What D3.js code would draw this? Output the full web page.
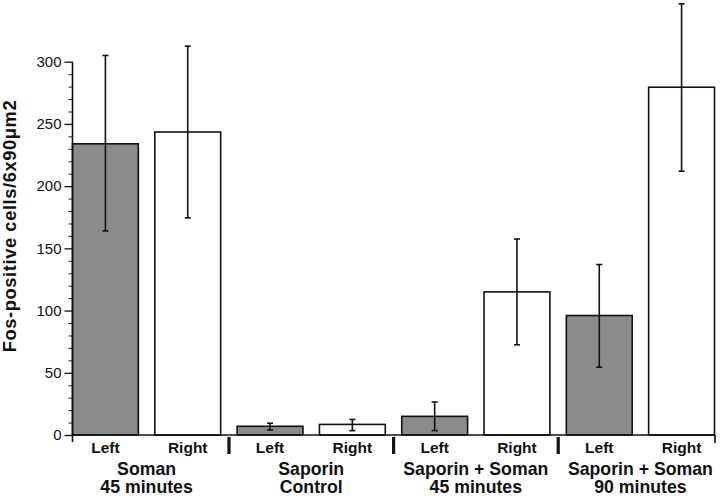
<!DOCTYPE html>
<html><head><meta charset="utf-8">
<script src="https://cdn.jsdelivr.net/npm/d3@7"></script>
<style>body{margin:0;background:#fff}svg{display:block}text{font-family:"Liberation Sans",Arial,sans-serif}</style>
</head><body>
<svg id="c" width="720" height="496"></svg>
<script>
const groups = ["Soman|45 minutes","Saporin|Control","Saporin + Soman|45 minutes","Saporin + Soman|90 minutes"];
const sides = ["Left","Right"];
const leftMean = [234, 7, 15, 96];
const leftHigh = [305, 9.5, 26.5, 137];
const leftLow  = [164, 4, 3.5, 54.5];
const rightMean = [243.5, 8.5, 115, 279.5];
const rightHigh = [312.5, 12.5, 157.5, 346.5];
const rightLow  = [174.5, 3.5, 72.5, 212];
const majorTicks = [0, 50, 100, 150, 200, 250, 300];
const yTitle = "Fos-positive cells/6x90\u03bcm2";

const bars = [];
groups.forEach((g, i) => {
  bars.push({id: i + "L", side: "Left", v: leftMean[i], hi: leftHigh[i], lo: leftLow[i]});
  bars.push({id: i + "R", side: "Right", v: rightMean[i], hi: rightHigh[i], lo: rightLow[i]});
});

const svg = d3.select("#c");
const x0 = 72.5, xEnd = 714.5, yBase = 435, yTop = 61.7;
const y = d3.scaleLinear().domain([0, 300]).range([yBase, yTop]);
const x = d3.scaleBand().domain(bars.map(d => d.id)).range([x0, xEnd]).paddingInner(0.2).paddingOuter(0);

// bars
svg.append("g").selectAll("rect").data(bars).join("rect")
  .attr("x", d => x(d.id)).attr("width", x.bandwidth())
  .attr("y", d => y(d.v)).attr("height", d => y(0) - y(d.v))
  .attr("fill", d => d.side === "Left" ? "#8b8b8b" : "#fff")
  .attr("stroke", "#111").attr("stroke-width", 1.6);

// error bars
const eb = svg.append("g").attr("stroke", "#111").attr("stroke-width", 1.6);
bars.forEach(d => {
  const cx = x(d.id) + x.bandwidth() / 2;
  eb.append("line").attr("x1", cx).attr("x2", cx).attr("y1", y(d.hi)).attr("y2", y(d.lo));
  [d.hi, d.lo].forEach(v => eb.append("line").attr("x1", cx - 3).attr("x2", cx + 3).attr("y1", y(v)).attr("y2", y(v)));
});

// y axis minor
const minor = d3.range(0, 301, 10).filter(v => v % 50 !== 0);
svg.append("g").attr("transform", `translate(${x0},0)`)
  .call(d3.axisLeft(y).tickValues(minor).tickSize(4).tickFormat("").tickSizeOuter(0))
  .call(g => g.select(".domain").remove())
  .call(g => g.selectAll("line").attr("stroke", "#222").attr("stroke-width", 1));
// y axis major
svg.append("g").attr("transform", `translate(${x0},0)`)
  .call(d3.axisLeft(y).tickValues(majorTicks).tickSize(8).tickPadding(3).tickSizeOuter(0))
  .call(g => g.select(".domain").remove())
  .call(g => g.selectAll("line").attr("stroke", "#111").attr("stroke-width", 1.3))
  .call(g => g.selectAll("text").attr("font-size", 15).attr("fill", "#111").attr("font-family", "Liberation Sans, Arial, sans-serif"));

// axis lines
const ax = svg.append("g").attr("stroke", "#111").attr("stroke-width", 1.6);
ax.append("line").attr("x1", x0).attr("x2", x0).attr("y1", yTop).attr("y2", yBase + 7);
ax.append("line").attr("x1", x0).attr("x2", xEnd + 0.5).attr("y1", yBase).attr("y2", yBase);
ax.append("line").attr("x1", xEnd + 0.5).attr("x2", xEnd + 0.5).attr("y1", yBase).attr("y2", yBase + 8);

// group separators
const gap = x.step() - x.bandwidth();
for (let i = 1; i < groups.length; i++) {
  const sx = x(i + "L") - gap / 2;
  svg.append("rect").attr("x", sx - 1.5).attr("width", 3.2).attr("y", yBase + 2).attr("height", 17).attr("fill", "#111");
}

// side labels
svg.append("g").selectAll("text").data(bars).join("text")
  .attr("x", d => x(d.id) + x.bandwidth() / 2).attr("y", 452.5)
  .attr("text-anchor", "middle").attr("font-weight", "bold").attr("font-size", 15.5).attr("fill", "#111")
  .text(d => d.side);

// group labels
groups.forEach((g, i) => {
  const cx = (x(i + "L") + x(i + "R") + x.bandwidth()) / 2;
  const lines = g.split("|");
  lines.forEach((t, k) => {
    svg.append("text").attr("x", cx).attr("y", 474.5 + k * 18.5)
      .attr("text-anchor", "middle").attr("font-weight", "bold").attr("font-size", 17.7).attr("fill", "#111")
      .text(t);
  });
});

// y title
svg.append("text").attr("transform", "translate(16,226) rotate(-90)")
  .attr("text-anchor", "middle").attr("font-weight", "bold").attr("font-size", 18.3).attr("fill", "#111")
  .attr("letter-spacing", 0.6)
  .text(yTitle);
</script>
</body></html>
